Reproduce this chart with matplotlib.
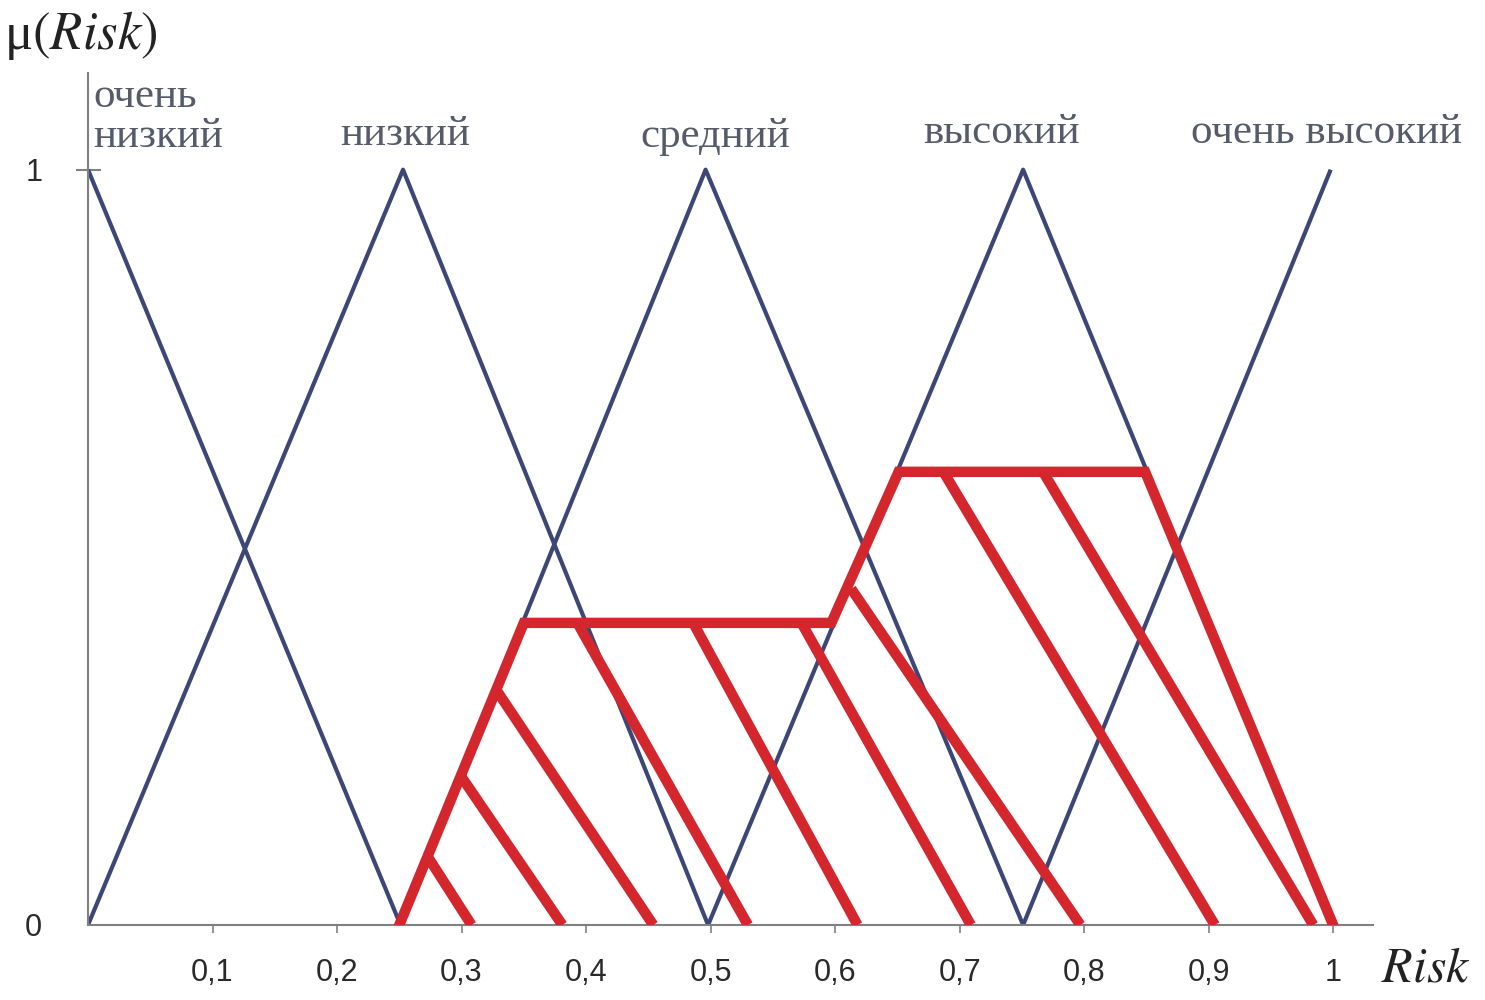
import numpy as np
import matplotlib.pyplot as plt

plt.rcParams['mathtext.fontset'] = 'stix'

# membership functions (triangles) for the linguistic terms of Risk
terms = ['очень\nнизкий', 'низкий', 'средний', 'высокий', 'очень высокий']
mf_x = [[0.0, 0.251],
        [0.0, 0.253, 0.498],
        [0.251, 0.496, 0.751],
        [0.498, 0.751, 1.0],
        [0.751, 0.998]]
mf_y = [[1, 0],
        [0, 1, 0],
        [0, 1, 0],
        [0, 1, 0],
        [0, 1]]
peaks = [0.0, 0.253, 0.496, 0.751, 0.998]

# aggregated (clipped) output set
agg_x = [0.25, 0.35, 0.597, 0.651, 0.849, 1.0]
agg_y = [0.0, 0.40, 0.40, 0.60, 0.60, 0.0]

# hatch strokes: start point on the outline, end point on the axis
hatch_x0 = [0.273, 0.300, 0.328, 0.393, 0.486, 0.573, 0.613, 0.687, 0.767]
hatch_y0 = [0.090, 0.196, 0.311, 0.400, 0.400, 0.400, 0.445, 0.600, 0.600]
hatch_x1 = [0.308, 0.381, 0.454, 0.530, 0.618, 0.709, 0.797, 0.905, 0.984]

xticks = [0.1, 0.2, 0.3, 0.4, 0.5, 0.6, 0.7, 0.8, 0.9, 1.0]
xticklabels = ['0,1', '0,2', '0,3', '0,4', '0,5', '0,6', '0,7', '0,8', '0,9', '1']

blue = '#3c4677'
red = '#d3262d'
grey = '#808080'

fig = plt.figure(figsize=(14.85, 10), dpi=100)
ax = fig.add_axes([88/1485, 75/1000, (1373-88)/1485, (925-73)/1000])
ax.set_xlim(0, 1.032)
ax.set_ylim(0, 1.128)

for xs, ys in zip(mf_x, mf_y):
    ax.plot(xs, ys, color=blue, lw=3.0, solid_capstyle='butt', zorder=2)

for x0, y0, x1 in zip(hatch_x0, hatch_y0, hatch_x1):
    ax.plot([x0, x1], [y0, 0], color=red, lw=7.5, solid_capstyle='butt', zorder=3)
ax.plot(agg_x, agg_y, color=red, lw=7.5, solid_joinstyle='miter', zorder=4)

# term labels above the peaks
offsets = [0.004, 0.002, 0.008, -0.017, -0.003]
label_y = [1.07, 1.046, 1.044, 1.049, 1.049]
for i, t in enumerate(terms):
    ax.text(peaks[i] + offsets[i], label_y[i], t, ha='left' if i == 0 else 'center',
            va='center', fontsize=31, family='Liberation Serif', color='#555b69',
            linespacing=1.08)

for s in ['top', 'right']:
    ax.spines[s].set_visible(False)
for s in ['left', 'bottom']:
    ax.spines[s].set_color(grey)
    ax.spines[s].set_linewidth(1.5)

ax.set_xticks(xticks)
ax.set_xticklabels(xticklabels, family='Liberation Sans', fontsize=22, color='#2a2a2a')
ax.tick_params(axis='x', direction='out', length=6, width=1.2, color=grey, pad=18)
ax.set_yticks([0, 1])
ax.set_yticklabels(['0', '1'], family='Liberation Sans', fontsize=22, color='#2a2a2a')
ax.tick_params(axis='y', direction='inout', length=18, width=1.5, color=grey, pad=24)
ax.yaxis.get_major_ticks()[0].tick1line.set_visible(False)

fig.text(4/1485, 1 - 35/1000, 'μ$(\\mathit{Risk})$', fontsize=38,
         family='Liberation Serif', va='center', ha='left', color='#222222')
fig.text(1381/1485, 1 - 968/1000, '$\\mathit{Risk}$', fontsize=36,
         va='center', ha='left', color='#222222')

fig.savefig('out.png', dpi=100, facecolor='white')
